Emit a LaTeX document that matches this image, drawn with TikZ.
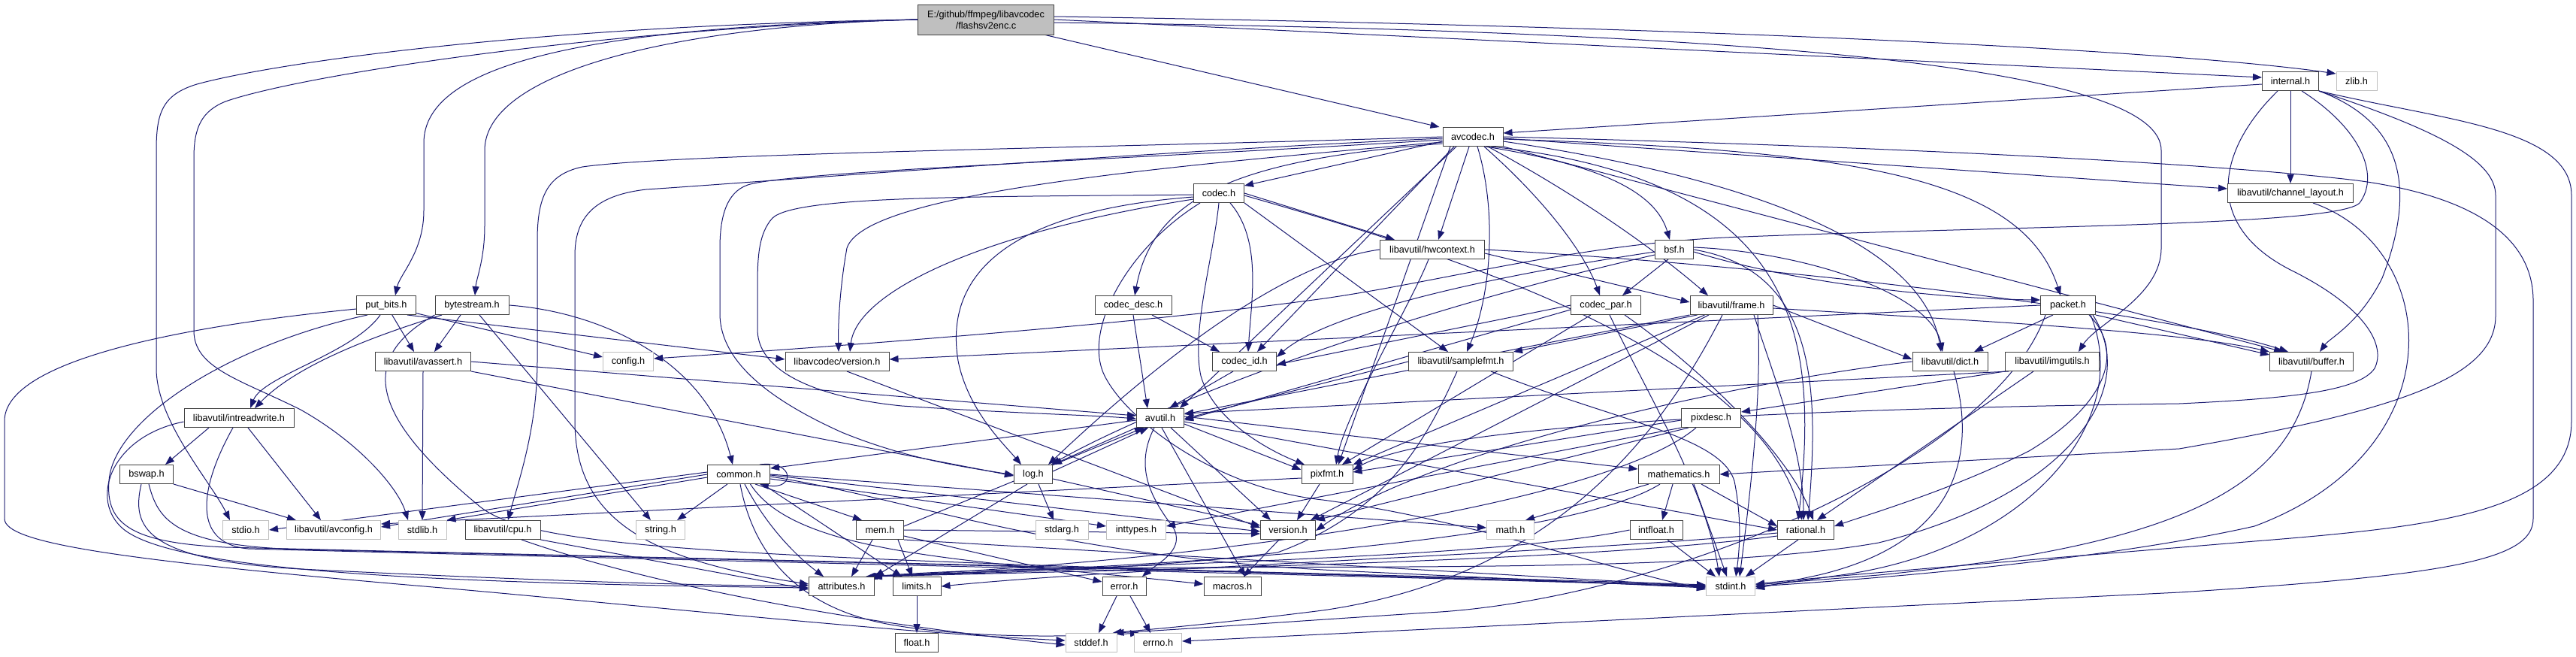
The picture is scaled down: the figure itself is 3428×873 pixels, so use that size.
\documentclass[tikz,border=0pt]{standalone}
\usepackage{fontspec}
\setmainfont{Liberation Sans}
\usetikzlibrary{arrows.meta}
\pgfdeclarelayer{bg}
\pgfsetlayers{bg,main}
\definecolor{edgec}{HTML}{191970}
\definecolor{boxd}{HTML}{404040}
\definecolor{boxg}{HTML}{BFBFBF}
\tikzset{
 ed/.style={draw=edgec, line width=1pt, -{Triangle[length=12pt,width=9pt]}},
 hb/.style={draw=boxd, fill=white, line width=1pt, minimum height=25pt, inner sep=0pt, font=\fontsize{12.7}{15}\selectfont, text=black},
 sb/.style={hb, draw=boxg},
}
\begin{document}
\begin{tikzpicture}[x=1pt,y=-1pt]
\useasboundingbox (0,0) rectangle (3428,873);
\node[hb,fill=boxg,minimum width=181pt,minimum height=40pt,align=center] (root) at (1312,26) {E:/github/ffmpeg/libavcodec\\/flashsv2enc.c};
\node[hb,minimum width=80pt] (avcodec) at (1960,182) {avcodec.h};
\node[hb,minimum width=75pt] (internal) at (3048,108) {internal.h};
\node[sb,minimum width=54pt] (zlib) at (3136,108) {zlib.h};
\node[hb,minimum width=167pt] (chlayout) at (3048,257) {libavutil/channel\_layout.h};
\node[hb,minimum width=79pt] (putbits) at (514,406) {put\_bits.h};
\node[hb,minimum width=98pt] (bytestream) at (628,406) {bytestream.h};
\node[hb,minimum width=67pt] (codec) at (1622,257) {codec.h};
\node[hb,minimum width=102pt] (codecdesc) at (1508,406) {codec\_desc.h};
\node[hb,minimum width=139pt] (hwcontext) at (1906,332) {libavutil/hwcontext.h};
\node[hb,minimum width=51pt] (bsf) at (2228,332) {bsf.h};
\node[hb,minimum width=93pt] (codecpar) at (2137,406) {codec\_par.h};
\node[hb,minimum width=110pt] (frame) at (2304,406) {libavutil/frame.h};
\node[hb,minimum width=73pt] (packet) at (2752,406) {packet.h};
\node[sb,minimum width=67pt] (config) at (836,481) {config.h};
\node[hb,minimum width=138pt] (lcversion) at (1114,481) {libavcodec/version.h};
\node[hb,minimum width=127pt] (avassert) at (563,481) {libavutil/avassert.h};
\node[hb,minimum width=85pt] (codecid) at (1656,481) {codec\_id.h};
\node[hb,minimum width=139pt] (samplefmt) at (1944,481) {libavutil/samplefmt.h};
\node[hb,minimum width=100pt] (dict) at (2595,481) {libavutil/dict.h};
\node[hb,minimum width=125pt] (imgutils) at (2731,481) {libavutil/imgutils.h};
\node[hb,minimum width=111pt] (buffer) at (3076,481) {libavutil/buffer.h};
\node[hb,minimum width=146pt] (intreadwrite) at (318,556) {libavutil/intreadwrite.h};
\node[hb,minimum width=63pt] (avutil) at (1544,556) {avutil.h};
\node[hb,minimum width=79pt] (pixdesc) at (2277,556) {pixdesc.h};
\node[hb,minimum width=83pt] (common) at (983,631) {common.h};
\node[hb,minimum width=51pt] (log) at (1375,631) {log.h};
\node[hb,minimum width=68pt] (pixfmt) at (1766,631) {pixfmt.h};
\node[hb,minimum width=108pt] (mathematics) at (2234,631) {mathematics.h};
\node[hb,minimum width=71pt] (bswap) at (195,631) {bswap.h};
\node[sb,minimum width=61pt] (stdio) at (327,705) {stdio.h};
\node[sb,minimum width=125pt] (avconfig) at (444,705) {libavutil/avconfig.h};
\node[sb,minimum width=64pt] (stdlib) at (562,705) {stdlib.h};
\node[hb,minimum width=100pt] (cpu) at (669,705) {libavutil/cpu.h};
\node[sb,minimum width=65pt] (string) at (879,705) {string.h};
\node[hb,minimum width=63pt] (mem) at (1171,705) {mem.h};
\node[sb,minimum width=70pt] (stdarg) at (1413,705) {stdarg.h};
\node[sb,minimum width=79pt] (inttypes) at (1512,705) {inttypes.h};
\node[hb,minimum width=73pt] (version) at (1714,705) {version.h};
\node[sb,minimum width=63pt] (math) at (2010,705) {math.h};
\node[hb,minimum width=70pt] (intfloat) at (2204,705) {intfloat.h};
\node[hb,minimum width=75pt] (rational) at (2403,705) {rational.h};
\node[hb,minimum width=87pt] (attributes) at (1120,780) {attributes.h};
\node[hb,minimum width=64pt] (limits) at (1220,780) {limits.h};
\node[hb,minimum width=58pt] (error) at (1496,780) {error.h};
\node[hb,minimum width=76pt] (macros) at (1640,780) {macros.h};
\node[sb,minimum width=65pt] (stdint) at (2303,780) {stdint.h};
\node[hb,minimum width=57pt] (float) at (1220,855) {float.h};
\node[sb,minimum width=68pt] (stddef) at (1452,855) {stddef.h};
\node[sb,minimum width=63pt] (errno) at (1541,855) {errno.h};
\begin{pgfonlayer}{bg}
\fill[white] (0,0) rectangle (3428,873);
% root
\draw[ed] (root.west) .. controls (760,36) and (564,90) .. (564,190) -- (564,280) .. controls (564,335) and (532,365) .. ([xshift=12pt]putbits.north);
\draw[ed] (root.west) .. controls (900,34) and (645,95) .. (645,200) -- (645,300) .. controls (645,345) and (634,370) .. ([xshift=4pt]bytestream.north);
\draw[ed] (root.west) .. controls (700,34) and (360,85) .. (262,112) .. controls (216,126) and (208,150) .. (208,200) -- (208,490) .. controls (208,560) and (280,640) .. ([xshift=-21pt]stdio.north);
\draw[ed] (root.west) .. controls (800,38) and (400,100) .. (300,135) .. controls (268,148) and (258,170) .. (258,210) -- (258,440) .. controls (258,490) and (320,505) .. (400,545) .. controls (480,590) and (530,650) .. ([xshift=-19pt]stdlib.north);
\draw[ed] ([xshift=-12pt]root.south east) -- ([xshift=-4pt]avcodec.north west);
\draw[ed] (root.east) -- ([yshift=5pt]internal.west);
\draw[ed] ([yshift=4pt]root.east) .. controls (2300,36) and (2900,68) .. ([yshift=10pt]zlib.west);
\draw[ed] ([yshift=-4pt]root.east) .. controls (2450,42) and (2876,100) .. (2876,200) -- (2876,330) .. controls (2876,395) and (2790,430) .. ([xshift=35pt]imgutils.north);
% avcodec
\draw[ed] ([yshift=-6pt]avcodec.west) -- ([yshift=-3pt]codec.north east);
\draw[ed] ([yshift=-9pt]avcodec.west) .. controls (1650,212) and (1535,260) .. ([xshift=2pt]codecdesc.north);
\draw[ed] ([xshift=-25pt]avcodec.south) -- ([xshift=17pt]codecid.north);
\draw[ed] (avcodec.west) .. controls (1500,196) and (900,204) .. (775,222) .. controls (728,232) and (715,262) .. (715,320) -- (715,480) .. controls (715,570) and (690,640) .. ([xshift=7pt]cpu.north);
\draw[ed] ([yshift=-2pt]avcodec.west) .. controls (1500,203) and (1000,243) .. (860,252) .. controls (790,260) and (765,290) .. (765,340) -- (765,560) .. controls (765,690) and (860,745) .. ([yshift=3pt]attributes.west);
\draw[ed] ([yshift=-4pt]avcodec.west) .. controls (1500,212) and (1050,228) .. (995,246) .. controls (966,256) and (958,290) .. (958,330) -- (958,420) .. controls (960,480) and (1020,530) .. (1120,575) .. controls (1210,612) and (1290,622) .. ([yshift=-1pt]log.west);
\draw[ed] (avcodec.east) .. controls (2400,192) and (2900,212) .. (3136,240) .. controls (3300,262) and (3371,320) .. (3371,400) -- (3371,690) .. controls (3371,745) and (3260,765) .. (2900,788) -- ([yshift=2pt]errno.east);
\draw[ed] ([xshift=6pt]avcodec.south) .. controls (1992,280) and (1985,390) .. ([xshift=8pt]samplefmt.north);
\draw[ed] ([xshift=-5pt]avcodec.south) -- ([xshift=8pt]hwcontext.north);
\draw[ed] ([xshift=17pt]avcodec.south) .. controls (2100,215) and (2200,245) .. ([xshift=-6pt]bsf.north);
\draw[ed] ([xshift=15pt]avcodec.south) .. controls (2060,270) and (2110,340) .. ([xshift=-8pt]codecpar.north);
\draw[ed] ([xshift=20pt]avcodec.south) .. controls (2100,260) and (2200,330) .. ([xshift=-31pt]frame.north);
\draw[ed] ([yshift=-3pt]avcodec.east) .. controls (2450,200) and (2690,230) .. ([xshift=-10pt]packet.north);
\draw[ed] ([yshift=-6pt]avcodec.east) .. controls (2350,240) and (2560,330) .. ([xshift=-12pt]dict.north);
\draw[ed] (avcodec.south east) -- ([xshift=18pt]buffer.north west);
\draw[ed] ([yshift=-2pt]avcodec.east) -- ([yshift=6pt]chlayout.west);
\draw[ed] ([xshift=24pt]avcodec.south) .. controls (2400,240) and (2420,450) .. ([xshift=-10pt]rational.north);
\draw[ed] ([xshift=-22pt]avcodec.south) -- ([xshift=26pt]avutil.north);
\draw[ed] ([yshift=-7pt]avcodec.west) .. controls (1500,225) and (1150,260) .. (1127,330) .. controls (1118,380) and (1115,430) .. ([xshift=2pt]lcversion.north);
\draw[ed] ([xshift=-30pt]avcodec.south) -- ([xshift=15pt]pixfmt.north);
% internal
\draw[ed] ([yshift=-4pt]internal.west) -- ([yshift=5pt]avcodec.east);
\draw[ed] (internal) -- (chlayout);
\draw[ed] ([xshift=15pt]internal.south) .. controls (3140,170) and (3168,232) .. (3140,270) .. controls (3110,300) and (2700,300) .. (2320,315) .. controls (2100,322) and (1900,380) .. (1740,400) .. controls (1500,432) and (1100,462) .. ([yshift=4pt]config.east);
\draw[ed] (internal.south east) .. controls (3190,160) and (3220,240) .. (3170,370) .. controls (3140,430) and (3100,450) .. ([xshift=11pt]buffer.north);
\draw[ed] (internal.south east) .. controls (3250,175) and (3321,215) .. (3321,260) -- (3321,420) .. controls (3321,500) and (3200,545) .. (2900,597) -- (mathematics.east);
\draw[ed] (internal.south east) .. controls (3250,160) and (3422,170) .. (3422,260) -- (3422,560) .. controls (3422,680) and (3250,700) .. (3000,720) .. controls (2700,745) and (2450,765) .. ([yshift=3pt]stdint.east);
\draw[ed] ([xshift=-17pt]internal.south) .. controls (2950,200) and (2930,300) .. (3050,360) .. controls (3150,410) and (3175,460) .. (3160,490) .. controls (3140,520) and (3050,530) .. (2900,537) .. controls (2300,545) and (1900,570) .. ([yshift=6pt]pixfmt.east);
% put_bits
\draw[ed] (putbits.-15) -- ([yshift=6pt]config.west);
\draw[ed] (putbits.-25) -- ([yshift=3pt]lcversion.west);
\draw[ed] (putbits) -- ([xshift=-12pt]avassert.north);
\draw[ed] ([xshift=-8pt]putbits.south) .. controls (470,470) and (350,500) .. ([xshift=15pt]intreadwrite.north);
\draw[ed] ([xshift=-25pt]putbits.south) .. controls (300,460) and (150,560) .. (145,640) .. controls (140,700) and (180,722) .. (300,728) .. controls (800,740) and (1800,762) .. ([yshift=2pt]stdint.west);
\draw[ed] ([yshift=-5pt]putbits.west) .. controls (300,428) and (6,470) .. (6,560) -- (6,690) .. controls (6,722) and (150,745) .. (600,783) .. controls (900,810) and (1200,842) .. ([yshift=3pt]stddef.west);
% bytestream
\draw[ed] ([xshift=10pt]bytestream.south) -- ([xshift=-13pt]string.north);
\draw[ed] ([xshift=-15pt]bytestream.south) -- ([xshift=15pt]avassert.north);
\draw[ed] (bytestream.east) .. controls (800,415) and (940,480) .. ([xshift=-8pt]common.north);
\draw[ed] ([xshift=-40pt]bytestream.south) .. controls (520,440) and (400,480) .. ([xshift=21pt]intreadwrite.north);
\draw[ed] (bytestream.south west) .. controls (470,480) and (500,560) .. (640,675) .. controls (720,735) and (1000,742) .. ([yshift=1pt]stdint.west);
% avassert
\draw[ed] (avassert.south) -- (stdlib.north);
\draw[ed] (avassert.east) -- ([yshift=3pt]avutil.west);
\draw[ed] (avassert.south east) -- ([yshift=-2pt]log.west);
% intreadwrite
\draw[ed] ([xshift=-40pt]intreadwrite.south) -- ([xshift=25pt]bswap.north);
\draw[ed] ([xshift=12pt]intreadwrite.south) -- ([xshift=-17pt]avconfig.north);
\draw[ed] ([yshift=-5pt]intreadwrite.west) .. controls (150,580) and (120,660) .. (160,700) .. controls (220,762) and (600,776) .. ([yshift=-2pt]attributes.west);
\draw[ed] ([xshift=-8pt]intreadwrite.south) .. controls (270,640) and (250,722) .. (330,730) .. controls (900,745) and (1800,765) .. (stdint.west);
% bswap
\draw[ed] (bswap.south east) -- ([xshift=-50pt]avconfig.north);
\draw[ed] ([xshift=-7pt]bswap.south) .. controls (175,700) and (190,745) .. (400,757) .. controls (700,772) and (950,780) .. ([yshift=1pt]attributes.west);
\draw[ed] ([xshift=3pt]bswap.south) .. controls (210,690) and (230,726) .. (400,731) .. controls (1000,745) and (1900,765) .. ([yshift=-1pt]stdint.west);
% common
\draw[ed] (common.25) .. controls (1058,612) and (1058,652) .. (common.-25);
\draw[ed] ([yshift=3pt]common.west) -- (stdio.east);
\draw[ed] (common.west) -- ([yshift=4pt]avconfig.east);
\draw[ed] ([yshift=-4pt]common.west) -- (stdlib.north east);
\draw[ed] ([xshift=-15pt]common.south) -- ([xshift=22pt]string.north);
\draw[ed] ([xshift=22pt]common.south) -- ([xshift=8pt]mem.north west);
\draw[ed] ([xshift=8pt]common.south) .. controls (1020,700) and (1060,740) .. ([xshift=-24pt]attributes.north);
\draw[ed] ([xshift=32pt]common.south) -- ([xshift=-20pt]limits.north);
\draw[ed] ([xshift=2pt]common.south) .. controls (1000,725) and (1050,805) .. (1180,830) .. controls (1300,852) and (1450,846) .. ([xshift=-25pt]errno.north);
\draw[ed] ([yshift=-6pt]common.east) -- ([yshift=5pt]inttypes.west);
\draw[ed] (common.east) -- ([yshift=3pt]math.west);
\draw[ed] ([yshift=-3pt]common.east) .. controls (1200,660) and (1400,742) .. (1800,760) -- ([yshift=-2pt]stdint.west);
\draw[ed] ([yshift=-1pt]common.east) -- ([yshift=-2pt]version.west);
\draw[ed] (common.-40) .. controls (1060,740) and (1300,745) .. ([yshift=3pt]macros.west);
% mem
\draw[ed] ([xshift=-10pt]mem.south) -- ([xshift=13pt]attributes.north);
\draw[ed] ([xshift=-8pt]mem.south east) -- ([xshift=-6pt]limits.north);
\draw[ed] ([yshift=5pt]mem.east) -- ([xshift=-22pt]avutil.south);
\draw[ed] ([yshift=-8pt]mem.east) -- ([yshift=6pt]error.west);
\draw[ed] (mem.east) -- ([yshift=-5pt]version.west);
\draw[ed] (mem.south east) -- (stdint.west);
% log
\draw[ed] ([xshift=7pt]log.south) -- ([xshift=-11pt]stdarg.north);
\draw[ed] ([yshift=4pt]log.east) -- ([xshift=-16pt]avutil.south);
\draw[ed] ([xshift=-8pt]log.south) -- (attributes.north east);
\draw[ed] ([yshift=-6pt]log.east) -- ([yshift=6pt]version.west);
% avutil
\draw[ed] ([yshift=-3pt]avutil.west) -- ([yshift=8pt]common.east);
\draw[ed] ([xshift=-8pt]avutil.south) .. controls (1510,620) and (1530,660) .. (1560,700) .. controls (1580,730) and (1540,750) .. ([xshift=24pt]error.north);
\draw[ed] ([xshift=2pt]avutil.south) -- ([xshift=17pt]macros.north);
\draw[ed] ([yshift=2pt]avutil.east) -- ([yshift=7pt]mathematics.west);
\draw[ed] ([yshift=-5pt]avutil.east) -- (rational.west);
\draw[ed] ([xshift=14pt]avutil.south) -- ([xshift=-23pt]version.north);
\draw[ed] (avutil.south west) -- (log.north east);
\draw[ed] ([yshift=-8pt]avutil.east) -- ([yshift=6pt]pixfmt.west);
% codec
\draw[ed] ([yshift=-2pt]codec.west) .. controls (1300,262) and (1060,260) .. (1028,290) .. controls (1010,310) and (1008,340) .. (1008,380) -- (1008,440) .. controls (1010,500) and (1100,530) .. (1200,540) .. controls (1350,550) and (1450,552) .. ([yshift=-1pt]avutil.west);
\draw[ed] (codec.east) -- ([xshift=-50pt]hwcontext.north);
\draw[ed] ([yshift=-5pt]codec.west) .. controls (1350,280) and (1255,360) .. (1275,480) .. controls (1288,545) and (1335,590) .. ([xshift=-16pt]log.north);
\draw[ed] (codec.south) .. controls (1615,340) and (1585,440) .. (1598,500) .. controls (1615,560) and (1690,600) .. ([xshift=-30pt]pixfmt.north);
\draw[ed] ([xshift=15pt]codec.south) .. controls (1680,320) and (1665,400) .. ([xshift=5pt]codecid.north);
\draw[ed] (codec.south east) -- ([xshift=-17pt]samplefmt.north);
\draw[ed] ([yshift=-8pt]codec.west) .. controls (1300,310) and (1140,390) .. ([xshift=17pt]lcversion.north);
\draw[ed] ([xshift=-25pt]codec.south) .. controls (1500,330) and (1440,440) .. (1470,500) .. controls (1500,560) and (1620,650) .. (1760,665) .. controls (1950,690) and (2150,760) .. ([yshift=-4pt]stdint.west);
\draw[ed] ([yshift=-3pt]codec.east) .. controls (1900,330) and (2340,460) .. ([xshift=-5pt]rational.north);
% codec_desc, codec_id
\draw[ed] (codecdesc.south) -- ([xshift=-17pt]avutil.north);
\draw[ed] ([xshift=25pt]codecdesc.south) -- ([xshift=-33pt]codecid.north);
\draw[ed] ([xshift=-15pt]codecid.south) -- ([xshift=12pt]avutil.north);
% hwcontext
\draw[ed] (hwcontext.west) .. controls (1700,350) and (1520,500) .. ([xshift=20pt]log.north);
\draw[ed] ([xshift=-5pt]hwcontext.south) .. controls (1880,400) and (1790,550) .. ([xshift=12pt]pixfmt.north);
\draw[ed] ([yshift=-5pt]hwcontext.east) -- ([yshift=4pt]frame.west);
\draw[ed] (hwcontext.east) .. controls (2400,355) and (2900,420) .. ([xshift=25pt]buffer.north west);
% bsf
\draw[ed] ([xshift=-8pt]bsf.south) -- ([xshift=22pt]codecpar.north);
\draw[ed] ([yshift=-3pt]bsf.west) .. controls (1900,380) and (1750,430) .. ([yshift=6pt]codecid.east);
\draw[ed] ([yshift=-7pt]bsf.west) .. controls (1800,430) and (1500,560) .. ([xshift=24pt]log.north);
\draw[ed] ([yshift=3pt]bsf.east) .. controls (2400,335) and (2570,390) .. ([xshift=-10pt]dict.north);
\draw[ed] (bsf.east) .. controls (2420,360) and (2420,520) .. ([xshift=3pt]rational.north);
\draw[ed] ([yshift=-3pt]bsf.east) .. controls (2400,380) and (2600,398) .. ([yshift=7pt]packet.west);
% codec_par
\draw[ed] (codecpar.west) -- ([yshift=-4pt]codecid.east);
\draw[ed] ([yshift=-6pt]codecpar.west) -- ([yshift=-3pt]avutil.east);
\draw[ed] ([xshift=-20pt]codecpar.south) -- ([xshift=20pt]pixfmt.north);
\draw[ed] ([xshift=25pt]codecpar.south) .. controls (2250,480) and (2380,600) .. ([xshift=10pt]rational.north);
\draw[ed] ([xshift=5pt]codecpar.south) .. controls (2190,520) and (2270,650) .. ([xshift=-15pt]stdint.north);
% frame
\draw[ed] ([xshift=10pt]frame.south west) -- (samplefmt.north east);
\draw[ed] (frame.south west) -- ([yshift=5pt]avutil.east);
\draw[ed] ([xshift=20pt]frame.south west) -- (pixfmt.north east);
\draw[ed] ([yshift=-4pt]frame.east) .. controls (2600,425) and (2900,440) .. (buffer.north west);
\draw[ed] (frame.east) -- ([yshift=3pt]dict.west);
\draw[ed] ([xshift=30pt]frame.south) .. controls (2360,500) and (2400,600) .. ([xshift=-3pt]rational.north);
\draw[ed] ([xshift=-30pt]frame.south) -- ([xshift=30pt]version.north);
\draw[ed] ([xshift=-12pt]frame.south) .. controls (2200,600) and (2050,770) .. (1760,812) .. controls (1600,832) and (1520,838) .. ([xshift=-6pt]stddef.north east);
\draw[ed] ([xshift=35pt]frame.south) .. controls (2345,520) and (2330,650) .. ([xshift=12pt]stdint.north);
% packet
\draw[ed] (packet.west) -- ([yshift=3pt]lcversion.east);
\draw[ed] (packet.south east) -- ([yshift=-4pt]buffer.north west);
\draw[ed] ([xshift=-20pt]packet.south) -- ([xshift=32pt]dict.north);
\draw[ed] ([xshift=28pt]packet.south) .. controls (2830,470) and (2800,540) .. (2700,600) .. controls (2600,650) and (2500,680) .. ([yshift=5pt]rational.east);
\draw[ed] ([xshift=33pt]packet.south) .. controls (2850,520) and (2750,660) .. (2500,722) .. controls (2200,775) and (1500,740) .. ([xshift=-6pt]attributes.north east);
\draw[ed] ([xshift=30pt]packet.south) .. controls (2840,560) and (2700,730) .. (2450,765) -- ([yshift=-1pt]stdint.east);
\draw[ed] ([xshift=-30pt]packet.south) .. controls (2650,620) and (2200,800) .. (1900,815) .. controls (1700,828) and (1560,838) .. ([xshift=-3pt]stddef.north east);
% dict
\draw[ed] (dict.west) .. controls (2300,510) and (1900,600) .. ([yshift=-1pt]version.east);
\draw[ed] ([xshift=5pt]dict.south) .. controls (2630,600) and (2610,720) .. (2420,765) -- ([yshift=-3pt]stdint.east);
% imgutils
\draw[ed] (imgutils.south west) -- ([yshift=8pt]pixdesc.east);
\draw[ed] ([xshift=5pt]imgutils.south west) -- ([yshift=6pt]avutil.east);
\draw[ed] ([xshift=-25pt]imgutils.south) -- ([xshift=15pt]rational.north);
% pixdesc
\draw[ed] ([yshift=-3pt]pixdesc.west) -- ([yshift=3pt]pixfmt.east);
\draw[ed] (pixdesc.south west) -- ([yshift=5pt]inttypes.east);
\draw[ed] ([xshift=10pt]pixdesc.south west) -- (version.north east);
\draw[ed] ([xshift=-20pt]pixdesc.south) .. controls (2150,660) and (1700,740) .. ([xshift=-4pt]attributes.north east);
% mathematics
\draw[ed] ([xshift=-40pt]mathematics.south) -- ([xshift=20pt]math.north);
\draw[ed] ([xshift=-8pt]mathematics.south) -- ([xshift=8pt]intfloat.north);
\draw[ed] ([xshift=20pt]mathematics.south) -- ([xshift=-5pt]stdint.north);
\draw[ed] ([xshift=30pt]mathematics.south) -- ([yshift=5pt]rational.west);
\draw[ed] ([xshift=-25pt]mathematics.south) .. controls (2120,700) and (1800,745) .. ([xshift=-10pt]attributes.north east);
% intfloat
\draw[ed] ([xshift=15pt]intfloat.south) -- ([xshift=-20pt]stdint.north);
\draw[ed] (intfloat.west) .. controls (2000,740) and (1600,748) .. ([xshift=-12pt]attributes.north east);
% rational
\draw[ed] ([xshift=-10pt]rational.south) -- ([xshift=20pt]stdint.north);
\draw[ed] ([yshift=-4pt]rational.west) .. controls (2100,735) and (1500,755) .. (limits.east);
\draw[ed] ([yshift=-8pt]rational.west) .. controls (2100,748) and (1500,758) .. ([xshift=-2pt]attributes.north east);
% samplefmt
\draw[ed] (samplefmt.west) -- ([yshift=-1pt]avutil.east);
\draw[ed] ([xshift=40pt]samplefmt.south) .. controls (2150,560) and (2290,580) .. (2308,640) .. controls (2318,690) and (2315,730) .. ([xshift=7pt]stdint.north);
\draw[ed] ([xshift=-5pt]samplefmt.south) .. controls (1900,580) and (1850,680) .. (1700,735) .. controls (1500,760) and (1300,762) .. ([xshift=-8pt]attributes.north east);
% pixfmt
\draw[ed] ([xshift=-10pt]pixfmt.south) -- ([xshift=12pt]version.north);
\draw[ed] ([yshift=-5pt]pixfmt.west) -- ([yshift=8pt]avconfig.east);
% small ones
\draw[ed] ([xshift=-12pt]version.south) -- ([xshift=15pt]macros.north);
\draw[ed] ([xshift=13pt]lcversion.south) -- ([yshift=3pt]version.west);
\draw[ed] ([xshift=-10pt]error.south) -- ([xshift=10pt]stddef.north);
\draw[ed] ([xshift=8pt]error.south) -- ([xshift=-10pt]errno.north);
\draw[ed] (limits) -- (float);
\draw[ed] (cpu.south east) -- ([yshift=-4pt]attributes.west);
\draw[ed] ([xshift=25pt]cpu.south) .. controls (900,790) and (1200,835) .. ([yshift=-3pt]stddef.west);
\draw[ed] (buffer.south) .. controls (3050,650) and (2900,725) .. (2500,765) -- ([yshift=2pt]stdint.east);
\draw[ed] ([xshift=30pt]chlayout.south) .. controls (3250,330) and (3270,600) .. (3000,700) .. controls (2800,745) and (2500,770) .. (stdint.east);
\end{pgfonlayer}
\end{tikzpicture}
\end{document}
